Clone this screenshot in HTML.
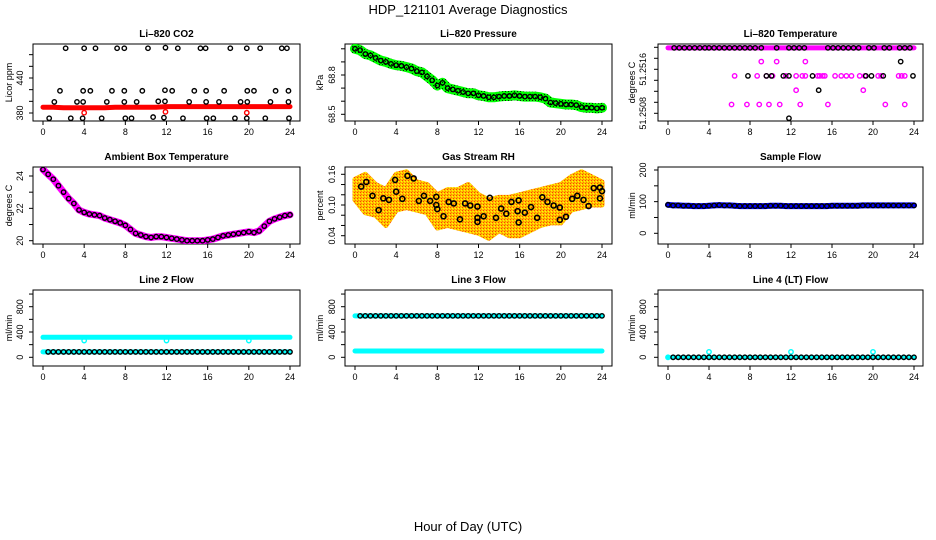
<!DOCTYPE html>
<html><head><meta charset="utf-8"><style>
html,body{margin:0;padding:0;background:#fff}
svg{display:block;font-family:"Liberation Sans",sans-serif}
</style></head><body>
<svg id="c" width="936" height="540" viewBox="0 0 936 540" xmlns="http://www.w3.org/2000/svg">
<defs>
<pattern id="pGreen" width="3" height="3" patternUnits="userSpaceOnUse"><rect width="3" height="3" fill="#00ff00"/><rect x="1" y="1" width="1" height="1" fill="#003300"/></pattern>
<pattern id="pOrange" width="3" height="3" patternUnits="userSpaceOnUse"><rect width="3" height="3" fill="#ffc000"/><rect width="1" height="1" fill="#ff4000"/><rect x="2" y="1" width="1" height="1" fill="#ffff00"/><rect x="1" y="2" width="1" height="1" fill="#ff8000"/></pattern>
</defs>
<text x="468" y="14" font-size="13" text-anchor="middle">HDP_121101  Average Diagnostics</text>
<text x="468" y="531" font-size="13" text-anchor="middle">Hour of Day (UTC)</text>
</svg>
<script>
// ---- data ----
const xTicks = [0,4,8,12,16,20,24];
const hours25 = [0,1,2,3,4,5,6,7,8,9,10,11,12,13,14,15,16,17,18,19,20,21,22,23,24];
const hours49 = [0,0.5,1,1.5,2,2.5,3,3.5,4,4.5,5,5.5,6,6.5,7,7.5,8,8.5,9,9.5,10,10.5,11,11.5,12,12.5,13,13.5,14,14.5,15,15.5,16,16.5,17,17.5,18,18.5,19,19.5,20,20.5,21,21.5,22,22.5,23,23.5,24];
// CO2
const co2Red = [390,390,389,389,389,389,389,390,390,390,390,390,391,391,391,391,391,391,391,391,391,391,391,391,391];
const co2BlackX = [2.2,4.0,5.1,7.2,7.9,10.2,11.9,13.1,15.3,15.8,18.2,19.8,21.1,23.2,23.7, 1.65,3.9,4.6,6.7,7.9,9.65,11.85,12.55,14.7,15.85,17.6,19.85,20.5,22.6,23.85, 1.1,3.3,3.9,6.2,7.9,9.1,11.2,11.85,14.2,15.85,17.1,19.2,19.85,22.1,23.85, 0.6,2.7,3.85,5.7,8.0,8.6,10.7,11.75,13.6,15.9,16.55,18.65,19.8,21.6,23.9];
const co2BlackY = [491,491,491,491,491,491,492,491,491,491,491,491,491,491,491, 418,418,418,418,418,418,419,418,418,418,418,418,418,418,418, 399,399,399,399,399,399,400,400,399,399,399,399,399,399,399, 371,371,371,371,371,371,373,372,371,371,371,371,371,371,371];
const co2RedX = [4.0,11.9,19.8];
const co2RedY = [380.5,382,380.5];
// Pressure
const presVals = [69.0,68.99,68.96,68.95,68.93,68.91,68.90,68.885,68.875,68.87,68.86,68.85,68.83,68.82,68.79,68.76,68.72,68.74,68.70,68.69,68.68,68.67,68.66,68.66,68.645,68.64,68.63,68.63,68.635,68.64,68.64,68.645,68.64,68.635,68.635,68.635,68.63,68.62,68.59,68.585,68.58,68.575,68.575,68.57,68.555,68.55,68.55,68.545,68.55];
// Li-820 temperature
const tTop = 51.25199;
const tTopBlackX = [0.6,1.1,1.6,2.1,2.6,3.1,3.6,4.0,4.5,5.0,5.5,6.0,6.5,7.0,7.5,8.0,8.5,9.1,10.6,11.8,12.3,12.8,13.3,15.6,16.1,16.6,17.1,17.6,18.1,18.6,19.6,20.1,21.1,21.6,22.6,23.1,23.6];
const tMagX = [6.5,8.7,9.6,10.2,11.5,12.5,13.1,13.4,14.6,14.8,15.1,15.3,16.3,16.9,17.4,17.9,18.7,19.2,20.5,20.8,22.5,22.8,23.1, 9.1,10.6,13.4, 12.5,19.05, 6.2,7.7,8.9,9.85,10.9,12.9,15.6,21.2,23.1];
const tMagY = [51.25148,51.25148,51.25148,51.25148,51.25148,51.25148,51.25148,51.25148,51.25148,51.25148,51.25148,51.25148,51.25148,51.25148,51.25148,51.25148,51.25148,51.25148,51.25148,51.25148,51.25148,51.25148,51.25148, 51.25174,51.25174,51.25174, 51.25122,51.25122, 51.25096,51.25096,51.25096,51.25096,51.25096,51.25096,51.25096,51.25096,51.25096];
const tBlkX = [7.8,9.6,10.1,11.25,11.8,14.1,19.3,19.85,21.0,23.9, 22.7, 14.7, 11.8];
const tBlkY = [51.25148,51.25148,51.25148,51.25148,51.25148,51.25148,51.25148,51.25148,51.25148,51.25148, 51.25174, 51.25122, 51.25071];
// Ambient
const ambVals = [24.4,24.1,23.8,23.4,23.0,22.6,22.3,21.9,21.75,21.65,21.6,21.55,21.4,21.3,21.2,21.1,20.95,20.7,20.45,20.35,20.25,20.2,20.25,20.25,20.2,20.15,20.1,20.05,20.0,20.0,20.0,20.0,20.05,20.1,20.2,20.3,20.35,20.4,20.45,20.5,20.55,20.5,20.6,20.9,21.2,21.35,21.45,21.55,21.6];
// RH
const rhUpper = [0.15,0.16,0.14,0.13,0.16,0.165,0.145,0.14,0.12,0.13,0.13,0.14,0.12,0.11,0.115,0.115,0.12,0.125,0.13,0.135,0.14,0.155,0.165,0.155,0.145];
const rhLower = [0.11,0.085,0.08,0.06,0.09,0.095,0.09,0.085,0.055,0.06,0.055,0.05,0.045,0.035,0.05,0.04,0.04,0.05,0.06,0.065,0.065,0.09,0.095,0.1,0.1];
const rhX = [0.6,1.1,1.7,2.3,2.75,3.3,3.9,4.0,4.6,5.1,5.7,6.2,6.7,7.3,7.9,7.9,8.0,8.6,9.1,9.6,10.2,10.7,11.2,11.9,11.9,11.9,12.5,13.1,13.7,14.2,14.7,15.2,15.9,15.8,15.9,16.5,17.1,17.7,18.2,18.7,19.3,19.9,19.9,20.5,21.1,21.6,22.2,22.7,23.2,23.8,23.8,24.0];
const rhY = [0.136,0.145,0.118,0.090,0.113,0.110,0.149,0.126,0.112,0.157,0.152,0.108,0.118,0.108,0.116,0.100,0.092,0.078,0.106,0.103,0.072,0.103,0.099,0.097,0.075,0.067,0.078,0.114,0.075,0.093,0.083,0.106,0.109,0.088,0.066,0.085,0.096,0.075,0.115,0.106,0.099,0.095,0.071,0.077,0.112,0.118,0.110,0.098,0.133,0.134,0.113,0.127];
// Sample flow
const sampVals = [90,88,88,87,87,86,86,86,87,88,89,88,88,87,86,86,86,86,86,86,87,87,87,86,86,86,86,86,86,86,86,86,87,87,87,87,87,87,88,88,88,88,88,88,88,88,88,88,88];
// Line flows
const l2Cyan = [316,316,316,316,316,316,316,316,316,316,316,316,316,316,316,316,316,316,316,316,316,316,316,316,316];
const l2DipX = [4,12,20];
const l2DipY = [265,265,265];
const l2Low = [85,85,85,85,85,85,85,85,85,85,85,85,85,85,85,85,85,85,85,85,85,85,85,85,85];
const l3High = [655,655,655,655,655,655,655,655,655,655,655,655,655,655,655,655,655,655,655,655,655,655,655,655,655];
const l3Low = [100,100,100,100,100,100,100,100,100,100,100,100,100,100,100,100,100,100,100,100,100,100,100,100,100];
const l4Vals = [0,0,0,0,0,0,0,0,0,0,0,0,0,0,0,0,0,0,0,0,0,0,0,0,0];
const l4SpikeX = [4,12,20];
const l4SpikeY = [85,85,85];

// ---- layout ----
const NS = "http://www.w3.org/2000/svg";
const svg = document.getElementById('c');
const cols = [{l:33,r:300,x0:43,x24:290,tl:20,yt:9},{l:345,r:612,x0:355,x24:602,tl:332,yt:320},{l:658,r:923,x0:668,x24:914,tl:643,yt:632}];
const rows = [{t:44,b:121,title:37},{t:167,b:244,title:160},{t:290,b:366,title:283}];
function el(tag, attrs, parent){const e=document.createElementNS(NS,tag);for(const k in attrs)e.setAttribute(k,attrs[k]);(parent||svg).appendChild(e);return e;}

function panel(name, title, ci, ri, yA, pA, yB, pB, ticks, labels, ytitle){
  const c=cols[ci], r=rows[ri];
  const g=el('g',{});
  
  
  const sx=h=>c.x0+(h/24)*(c.x24-c.x0);
  const sy=v=>pA+(v-yA)*(pB-pA)/(yB-yA);
  const box=el('rect',{x:c.l,y:r.t,width:c.r-c.l,height:r.b-r.t,fill:'none',stroke:'#000','stroke-width':1},g);
  
  
  const tt=el('text',{x:(c.l+c.r)/2,y:r.title,'font-size':10,'font-weight':'bold','text-anchor':'middle'},g);
  tt.textContent=title;
  
  
  const xa=el('g',{},g);
  
  
  xTicks.forEach(h=>{
    el('line',{x1:sx(h),x2:sx(h),y1:r.b,y2:r.b+4,stroke:'#000'},xa);
    const t=el('text',{x:sx(h),y:r.b+14,'font-size':9,'text-anchor':'middle'},xa);t.textContent=h;
  });
  const ya=el('g',{},g);
  
  
  ticks.forEach(v=>{el('line',{x1:c.l-4,x2:c.l,y1:sy(v),y2:sy(v),stroke:'#000'},ya);});
  labels.forEach(v=>{
    const y=sy(parseFloat(v));
    const t=el('text',{x:0,y:0,'font-size':9,'text-anchor':'middle',transform:`translate(${c.tl+3},${y}) rotate(-90)`},ya);t.textContent=v;
  });
  const yt=el('text',{x:0,y:0,'font-size':9,'text-anchor':'middle',transform:`translate(${c.yt+3},${(r.t+r.b)/2}) rotate(-90)`},g);
  yt.textContent=ytitle;
  
  
  const clip='clip'+name;
  const cp=el('clipPath',{id:clip},g);el('rect',{x:c.l,y:r.t,width:c.r-c.l,height:r.b-r.t},cp);
  const d=el('g',{'clip-path':`url(#${clip})`},g);
  return {g:d,sx,sy};
}
function line(p,xs,ys,color,w,name){
  const pts=xs.map((h,i)=>p.sx(h).toFixed(1)+','+p.sy(ys[i]).toFixed(1)).join(' ');
  const e=el('polyline',{points:pts,fill:'none',stroke:color,'stroke-width':w,'stroke-linejoin':'round','stroke-linecap':'round'},p.g);
  
  
}
function pts(p,xs,ys,color,name,r,sw){
  const g=el('g',{},p.g);
  
  
  xs.forEach((h,i)=>{
    const e=el('circle',{cx:p.sx(h),cy:p.sy(ys[i]),r:r||2.2,fill:'none',stroke:color,'stroke-width':sw||1.4},g);
    
    
  });
}
function band(p,xs,up,lo,fill,name){
  let d='M'+xs.map((h,i)=>p.sx(h)+','+p.sy(up[i])).join(' L');
  d+=' L'+xs.slice().reverse().map((h,i)=>p.sx(h)+','+p.sy(lo[lo.length-1-i])).join(' L')+'Z';
  const e=el('path',{d,fill,stroke:fill,'stroke-width':5,'stroke-linejoin':'round'},p.g);
  
  
}

// P1 CO2
let p=panel('co2-panel','Li\u2013820 CO2',0,0,380,113,440,78,[380,400,420,440,460,480],['380','440'],'Licor ppm');
line(p,hours25,co2Red,'#ff0000',5,'co2-red-series');
pts(p,co2RedX,co2RedY,'#ff0000','co2-red-points');
pts(p,co2BlackX,co2BlackY,'#000','co2-black-points');
// P2 Pressure
p=panel('pressure-panel','Li\u2013820 Pressure',1,0,68.5,114.3,68.8,75,[68.5,68.6,68.7,68.8,68.9,69.0],['68.5','68.8'],'kPa');
line(p,hours49,presVals,'url(#pGreen)',10,'pressure-green-series');
pts(p,hours49,presVals,'#000','pressure-black-points');
// P3 Temperature
p=panel('li820-temp-panel','Li\u2013820 Temperature',2,0,51.2508,113.3,51.2516,69.3,[51.2508,51.251,51.2512,51.2514,51.2516,51.2518,51.252],['51.2508','51.2516'],'degrees C');
line(p,[0,24],[tTop,tTop],'#ff00ff',5,'temp-magenta-top');
pts(p,tTopBlackX,tTopBlackX.map(()=>tTop),'#000','temp-black-top');
pts(p,tMagX,tMagY,'#ff00ff','temp-magenta-points');
pts(p,tBlkX,tBlkY,'#000','temp-black-points');
// P4 Ambient
p=panel('ambient-panel','Ambient Box Temperature',0,1,20,240.7,24,176,[20,21,22,23,24],['20','22','24'],'degrees C');
line(p,hours49,ambVals,'#ff00ff',7,'ambient-magenta-series');
pts(p,hours49,ambVals,'#000','ambient-black-points');
// P5 RH
p=panel('rh-panel','Gas Stream RH',1,1,0.04,235.7,0.16,174.3,[0.04,0.06,0.08,0.10,0.12,0.14,0.16],['0.04','0.10','0.16'],'percent');
band(p,hours25,rhUpper,rhLower,'url(#pOrange)','rh-orange-cloud');
pts(p,rhX,rhY,'#000','rh-black-points',2.5,1.6);
// P6 Sample flow
p=panel('sample-flow-panel','Sample Flow',2,1,0,233.3,200,170,[0,50,100,150,200],['0','100','200'],'ml/min');
line(p,hours49,sampVals,'#0000ff',6,'sample-blue-series');
pts(p,hours49,sampVals,'#000','sample-black-points');
// P7 Line 2
const fT=[0,200,400,600,800,1000], fL=['0','400','800'];
p=panel('line2-panel','Line 2 Flow',0,2,0,357.3,800,306.7,fT,fL,'ml/min');
line(p,hours25,l2Cyan,'#00ffff',5,'line2-cyan-high');
pts(p,l2DipX,l2DipY,'#00ffff','line2-cyan-dips');
line(p,hours25,l2Low,'#00ffff',5,'line2-cyan-low');
pts(p,hours49.slice(1),hours49.slice(1).map(h=>l2Low[Math.floor(h)]),'#000','line2-black-points');
// P8 Line 3
p=panel('line3-panel','Line 3 Flow',1,2,0,357.3,800,306.7,fT,fL,'ml/min');
line(p,hours25,l3High,'#00ffff',5,'line3-cyan-high');
line(p,hours25,l3Low,'#00ffff',5,'line3-cyan-low');
pts(p,hours49.slice(1),hours49.slice(1).map(h=>l3High[Math.floor(h)]),'#000','line3-black-points');
// P9 Line 4
p=panel('line4-panel','Line 4 (LT) Flow',2,2,0,357.3,800,306.7,fT,fL,'ml/min');
line(p,hours25,l4Vals,'#00ffff',4,'line4-cyan-series');
pts(p,[0],[l4Vals[0]],'#00ffff','line4-cyan-start');
pts(p,l4SpikeX,l4SpikeY,'#00ffff','line4-cyan-spikes');
pts(p,hours49.slice(1),hours49.slice(1).map(h=>l4Vals[Math.floor(h)]),'#000','line4-black-points');
</script>
</body></html>
